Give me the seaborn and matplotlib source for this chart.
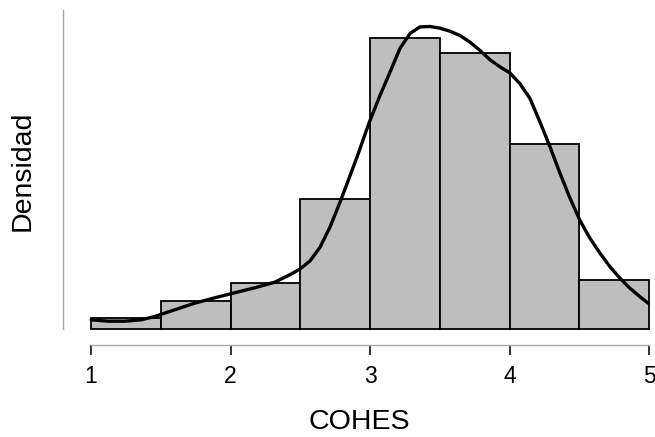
import matplotlib
matplotlib.use("Agg")
import matplotlib.pyplot as plt
import seaborn as sns

# Histogram data (density per 0.5-wide bin)
bin_edges = [1.0, 1.5, 2.0, 2.5, 3.0, 3.5, 4.0, 4.5, 5.0]
bin_density = [0.0226, 0.0561, 0.0896, 0.255, 0.573, 0.543, 0.365, 0.0955]

# Density curve
kde_x = [1.002, 1.122, 1.242, 1.361, 1.457, 1.600, 1.743, 1.887, 2.030, 2.173,
         2.317, 2.427, 2.498, 2.570, 2.642, 2.713, 2.785, 2.844, 2.907, 2.993,
         3.072, 3.143, 3.215, 3.287, 3.358, 3.430, 3.502, 3.573, 3.645, 3.717,
         3.789, 3.860, 3.932, 4.004, 4.075, 4.147, 4.219, 4.290, 4.362, 4.434,
         4.505, 4.577, 4.649, 4.720, 4.792, 4.864, 4.935, 4.995]
kde_y = [0.0181, 0.0154, 0.0154, 0.0181, 0.0246, 0.0378, 0.0508, 0.0614, 0.0713, 0.0811,
         0.0921, 0.1070, 0.1180, 0.1340, 0.1610, 0.2004, 0.2496, 0.2923, 0.3386, 0.4055,
         0.4600, 0.5053, 0.5526, 0.5817, 0.5947, 0.5955, 0.5921, 0.5862, 0.5778, 0.5646,
         0.5482, 0.5300, 0.5160, 0.5039, 0.4827, 0.4537, 0.4071, 0.3589, 0.3065, 0.2573,
         0.2136, 0.1785, 0.1490, 0.1226, 0.0998, 0.0801, 0.0636, 0.0506]

x_ticks = [1, 2, 3, 4, 5]
x_label = "COHES"
y_label = "Densidad"

sns.set_style("white")
plt.rcParams["font.family"] = ["Liberation Sans", "DejaVu Sans"]

fig = plt.figure(figsize=(6.55, 4.37), dpi=100)
ax = fig.add_axes([63 / 655, 1 - 345 / 437, 1 - 63 / 655, (345 - 10) / 437])

centers = [(a + b) / 2 for a, b in zip(bin_edges[:-1], bin_edges[1:])]
sns.histplot(x=centers, weights=bin_density, bins=bin_edges, stat="count",
             color="#bebebe", edgecolor="black", linewidth=1.3, alpha=1.0, ax=ax)
sns.lineplot(x=kde_x, y=kde_y, color="black", linewidth=2.4, ax=ax,
             solid_joinstyle="round", solid_capstyle="round")

ax.set_xlim(1 - 28 / 139.5, 1 + (655 - 91) / 139.5)
ax.set_ylim(-16 / 508, 319 / 508)

ax.set_xticks(x_ticks)
ax.set_xticklabels([str(t) for t in x_ticks], fontsize=16.5, color="black")
ax.set_yticks([])
ax.tick_params(axis="x", direction="out", length=7.2, width=1.3, color="#222222",
               pad=7.5, labelcolor="black", bottom=True)

for s in ["top", "right"]:
    ax.spines[s].set_visible(False)
ax.spines["left"].set_bounds(0, 319 / 508)
ax.spines["left"].set_color("#a8a8a8")
ax.spines["left"].set_linewidth(1.0)
ax.spines["bottom"].set_bounds(1, 5)
ax.spines["bottom"].set_color("#a8a8a8")
ax.spines["bottom"].set_linewidth(1.0)

ax.set_xlabel(x_label, fontsize=20.5, color="black")
ax.set_ylabel(y_label, fontsize=20.5, color="black")
ax.xaxis.set_label_coords(0.5, -0.2299)
ax.xaxis.label.set_va("center")
ax.yaxis.set_label_coords(-0.0684, 0.5194)
ax.yaxis.label.set_va("center")

fig.savefig("out.png", dpi=100)
